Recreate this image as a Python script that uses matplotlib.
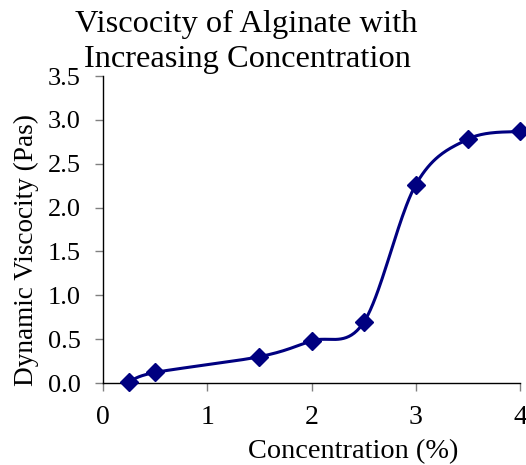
import numpy as np
import matplotlib
matplotlib.use("Agg")
import matplotlib.pyplot as plt

conc = [0.25, 0.5, 1.5, 2.0, 2.5, 3.0, 3.5, 4.0]
visc = [0.01, 0.12, 0.30, 0.48, 0.69, 2.26, 2.78, 2.87]
xticks = [0, 1, 2, 3, 4]
yticks = [0.0, 0.5, 1.0, 1.5, 2.0, 2.5, 3.0, 3.5]
title_lines = ["Viscocity of Alginate with", "Increasing Concentration"]
xlabel = "Concentration (%)"
ylabel = "Dynamic Viscocity (Pas)"

FONT = "Liberation Serif"
NAVY = "#000080"

def smooth(xs, ys, n=40):
    P = np.column_stack([xs, ys]).astype(float)
    P = np.vstack([P[0], P, P[-1]])
    out = []
    for i in range(1, len(P) - 2):
        p0, p1, p2, p3 = P[i - 1], P[i], P[i + 1], P[i + 2]
        c1 = p1 + (p2 - p0) / 6.0
        c2 = p2 - (p3 - p1) / 6.0
        t = np.linspace(0, 1, n)[:, None]
        seg = ((1 - t) ** 3) * p1 + 3 * ((1 - t) ** 2) * t * c1 + 3 * (1 - t) * t ** 2 * c2 + t ** 3 * p2
        out.append(seg if i == 1 else seg[1:])
    s = np.vstack(out)
    return s[:, 0], s[:, 1]

fig = plt.figure(figsize=(5.26, 4.65), dpi=100)
ax = fig.add_axes([103 / 526, 1 - 383 / 465, 417 / 526, 307 / 465])

sx, sy = smooth(conc, visc)
ax.plot(sx, sy, color=NAVY, lw=2.2, solid_capstyle="round", clip_on=False, zorder=3)
ax.plot(conc, visc, linestyle="none", marker="D", markersize=9, color=NAVY, clip_on=False, zorder=4)

ax.set_xlim(0, 4)
ax.set_ylim(0, 3.5)
ax.set_xticks(xticks)
ax.set_yticks(yticks)
ax.set_xticklabels([str(v) for v in xticks], fontsize=20, family=FONT)
ax.set_yticklabels([f"{v:.1f}" for v in yticks], fontsize=19, family=FONT)
for s in ["top", "right"]:
    ax.spines[s].set_visible(False)
for s in ["left", "bottom"]:
    ax.spines[s].set_color("black")
    ax.spines[s].set_linewidth(1.0)
ax.tick_params(axis="both", direction="out", length=6, width=1, color="#808080")
ax.tick_params(axis="x", pad=10)
ax.tick_params(axis="y", pad=10)

fig.text(246.5 / 526, 1 - 32 / 465, title_lines[0], ha="center", va="baseline", fontsize=23.4, family=FONT)
fig.text(247 / 526, 1 - 67 / 465, title_lines[1], ha="center", va="baseline", fontsize=23.4, family=FONT)
fig.text(353 / 526, 1 - 458 / 465, xlabel, ha="center", va="baseline", fontsize=20.4, family=FONT)
fig.text(26 / 526, 1 - 250 / 465, ylabel, ha="center", va="center", rotation=90, fontsize=19.6, family=FONT)

fig.savefig("out.png", dpi=100)
